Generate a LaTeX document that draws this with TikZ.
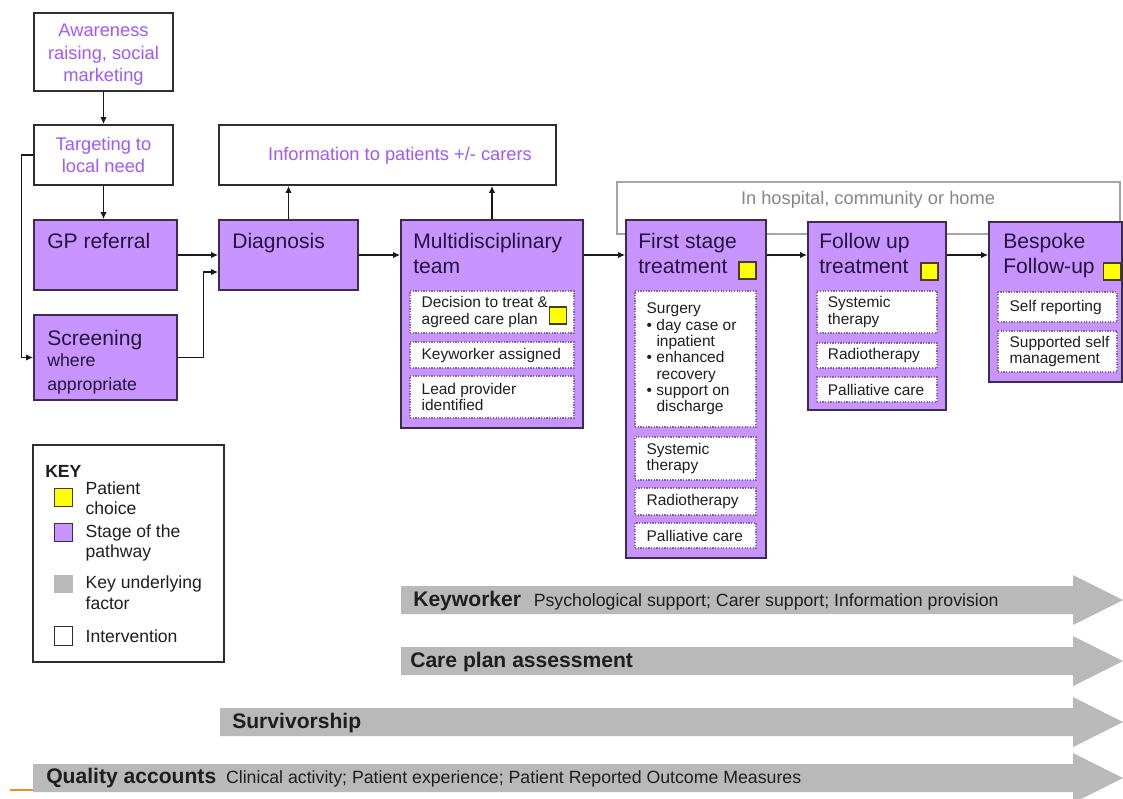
\documentclass[tikz,border=0pt]{standalone}
\usepackage{fontspec}
\setmainfont{Liberation Sans}
\usepackage{tikz}
\usetikzlibrary{arrows.meta, positioning, calc, fit}
\definecolor{stagefill}{RGB}{200,148,255}
\definecolor{stagedraw}{RGB}{60,45,80}
\definecolor{stagetext}{RGB}{35,20,60}
\definecolor{infotext}{RGB}{160,90,245}
\definecolor{boxdraw}{RGB}{45,45,45}
\definecolor{subdraw}{RGB}{130,100,160}
\definecolor{subtext}{RGB}{30,30,30}
\definecolor{choicefill}{RGB}{255,255,0}
\definecolor{choicedraw}{RGB}{70,60,40}
\definecolor{hospdraw}{RGB}{165,165,165}
\definecolor{hosptextcol}{RGB}{135,135,135}
\definecolor{barfill}{RGB}{185,185,185}
\definecolor{arrowcol}{RGB}{25,25,25}
\definecolor{slideorange}{RGB}{240,140,40}
\newcommand{\stagefont}{\fontsize{15}{17.8}\selectfont}
\newcommand{\notefont}{\fontsize{12.6}{17}\selectfont}
\newcommand{\infofont}{\fontsize{13}{15.9}\selectfont}
\newcommand{\subfont}{\fontsize{11}{11.6}\selectfont}
\newcommand{\keyfont}{\fontsize{12.5}{14.6}\selectfont}
\newcommand{\barbold}{\fontsize{15}{17}\selectfont\bfseries}
\newcommand{\bartext}{\fontsize{12.6}{15}\selectfont}
\newcommand{\bul}{\makebox[7pt][l]{\textbullet}}
\tikzset{
  infobox/.style={rectangle, draw=boxdraw, fill=white, line width=1.1pt, inner sep=0pt},
  infolbl/.style={inner sep=0pt, align=center, text=infotext, font=\infofont},
  hospbox/.style={rectangle, draw=hospdraw, fill=white, line width=1pt, inner sep=0pt},
  hosplbl/.style={inner sep=0pt, text=hosptextcol, font=\infofont},
  stagebox/.style={rectangle, draw=stagedraw, fill=stagefill, line width=1.1pt, inner sep=0pt},
  stagetitle/.style={anchor=north west, inner sep=0pt, align=left,
    text=stagetext, font=\stagefont},
  stagenote/.style={anchor=north west, inner sep=0pt, align=left,
    text=stagetext, font=\notefont},
  subbox/.style={rectangle, draw=subdraw, densely dotted, line width=0.9pt, fill=white,
    inner sep=0pt},
  sublbl/.style={anchor=west, inner sep=0pt, align=left, text=subtext, font=\subfont},
  choicesq/.style={rectangle, draw=choicedraw, fill=choicefill, line width=0.9pt,
    minimum width=0.42cm, minimum height=0.42cm, inner sep=0pt},
  keybox/.style={rectangle, draw=boxdraw, fill=white, line width=1.2pt, inner sep=0pt},
  keysq/.style={rectangle, minimum size=0.46cm, inner sep=0pt, line width=0.9pt},
  keytext/.style={anchor=north west, inner sep=0pt, align=left, text=subtext, font=\keyfont},
  factorbar/.style={fill=barfill},
  barlbl/.style={anchor=west, inner sep=0pt, text=subtext, font=\bartext},
  arrow/.style={-{Latex[length=5pt,width=4.5pt]}, line width=1pt, color=arrowcol}
}
\begin{document}
\begin{tikzpicture}[x=0.025cm, y=-0.025cm]
  \useasboundingbox (0,0) rectangle (1123,798);

  % Interventions
  \node[infobox, fit={(34,13) (173,91)}] (aware) {};
  \node[infolbl] (awaretxt) at ([yshift=-2pt]aware.center) {Awareness\\raising, social\\marketing};
  \node[infobox, fit={(34,125) (173,185)}] (target) {};
  \node[infolbl] (targettxt) at (target) {Targeting to\\local need};
  \node[infobox, fit={(219,125) (556,185)}] (info) {};
  \node[infolbl] (infotxt) at (400,156) {Information to patients +/- carers};

  % Setting of care (behind the stages)
  \node[hospbox, fit={(617,182) (1120,234)}] (hosp) {};
  \node[hosplbl] (hosptxt) at (868,200) {In hospital, community or home};

  % Stages of the pathway
  \node[stagebox, fit={(34,220) (177,290)}] (gp) {};
  \node[stagetitle] (gptitle) at (47,233) {GP referral};
  \node[stagebox, fit={(34,315) (177,400)}] (screen) {};
  \node[stagetitle] (screentitle) at (47,330) {Screening};
  \node[stagenote] (screennote) at ([yshift=-2pt]screentitle.south west) {where\\appropriate};
  \node[stagebox, fit={(219,220) (358,290)}] (diag) {};
  \node[stagetitle] (diagtitle) at (232,233) {Diagnosis};
  \node[stagebox, fit={(401,220) (583,428)}] (mdt) {};
  \node[stagetitle] (mdttitle) at (413,233) {Multidisciplinary\\team};
  \node[stagebox, fit={(626,220) (766,558)}] (first) {};
  \node[stagetitle] (firsttitle) at (638,233) {First stage\\treatment};
  \node[stagebox, fit={(808,222) (946,410)}] (follow) {};
  \node[stagetitle] (followtitle) at (819,233) {Follow up\\treatment};
  \node[stagebox, fit={(989,222) (1122,382)}] (bespoke) {};
  \node[stagetitle] (bespoketitle) at (1003,233) {Bespoke\\Follow-up};

  % Interventions inside the stages
  \node[subbox, fit={(410,291) (574,333)}] (decide) {};
  \node[sublbl] (decidetxt) at ([xshift=0.3cm]decide.west) {Decision to treat \&\\agreed care plan};
  \node[subbox, fit={(410,342) (574,368)}] (kwassign) {};
  \node[sublbl] (kwassigntxt) at ([xshift=0.3cm]kwassign.west) {Keyworker assigned};
  \node[subbox, fit={(410,376) (574,418)}] (leadprov) {};
  \node[sublbl] (leadprovtxt) at ([xshift=0.3cm]leadprov.west) {Lead provider\\identified};
  \node[subbox, fit={(635,291) (756,427)}] (surgery) {};
  \node[sublbl] (surgerytxt) at ([xshift=0.3cm]surgery.west) {Surgery\\
    \bul day case or\\\hspace*{7pt}inpatient\\
    \bul enhanced\\\hspace*{7pt}recovery\\
    \bul support on\\\hspace*{7pt}discharge};
  \node[subbox, fit={(635,437) (756,480)}] (sysfirst) {};
  \node[sublbl] (sysfirsttxt) at ([xshift=0.3cm]sysfirst.west) {Systemic\\therapy};
  \node[subbox, fit={(635,488) (756,515)}] (radfirst) {};
  \node[sublbl] (radfirsttxt) at ([xshift=0.3cm]radfirst.west) {Radiotherapy};
  \node[subbox, fit={(635,523) (756,548)}] (palfirst) {};
  \node[sublbl] (palfirsttxt) at ([xshift=0.3cm]palfirst.west) {Palliative care};
  \node[subbox, fit={(817,291) (937,333)}] (sysfollow) {};
  \node[sublbl] (sysfollowtxt) at ([xshift=0.28cm]sysfollow.west) {Systemic\\therapy};
  \node[subbox, fit={(817,343) (937,368)}] (radfollow) {};
  \node[sublbl] (radfollowtxt) at ([xshift=0.28cm]radfollow.west) {Radiotherapy};
  \node[subbox, fit={(817,377) (937,402)}] (palfollow) {};
  \node[sublbl] (palfollowtxt) at ([xshift=0.28cm]palfollow.west) {Palliative care};
  \node[subbox, fit={(998,292) (1117,322)}] (selfrep) {};
  \node[sublbl] (selfreptxt) at ([xshift=0.3cm]selfrep.west) {Self reporting};
  \node[subbox, fit={(998,331) (1117,372)}] (suppself) {};
  \node[sublbl] (suppselftxt) at ([xshift=0.3cm]suppself.west) {Supported self\\management};

  % Patient choice markers
  \node[choicesq] (choicedec) at (558,315.5) {};
  \node[choicesq] (choicefirst) at (747.5,270.5) {};
  \node[choicesq] (choicefollow) at (929.5,271.5) {};
  \node[choicesq] (choicebesp) at (1112,271.5) {};

  % Flow
  \draw[arrow] (aware) -- (target);
  \draw[arrow] (target.south) -- (target.south |- gp.north);
  \draw[arrow] (target.west) -- ++(-12,0) |- (screen.west);
  \draw[arrow] (gp) -- (diag);
  \draw[arrow] (screen.east) -- ++(26,0) |- ($(diag.west)+(0,17)$);
  \draw[arrow] (diag.north) -- (diag.north |- info.south);
  \draw[arrow] (mdt.north) -- (mdt.north |- info.south);
  \draw[arrow] (diag.east) -- (diag.east -| mdt.west);
  \draw[arrow] (mdt.east |- diag.east) -- (first.west |- diag.east);
  \draw[arrow] (first.east |- diag.east) -- (follow.west |- diag.east);
  \draw[arrow] (follow.east |- diag.east) -- (bespoke.west |- diag.east);

  % Key
  \node[keybox, fit={(33,445) (224,662)}] (key) {};
  \node[keytext, font=\keyfont\bfseries] (keyhead) at (45,465) {KEY};
  \node[keysq, draw=choicedraw, fill=choicefill] (sqchoice) at (63.5,497.5) {};
  \node[keytext] (txtchoice) at ([xshift=0.3cm, yshift=4.5pt]sqchoice.north east) {Patient\\choice};
  \node[keysq, draw=stagedraw, fill=stagefill] (sqstage) at (63.5,532.5) {};
  \node[keytext] (txtstage) at ([xshift=0.3cm, yshift=-1pt]sqstage.north east) {Stage of the\\pathway};
  \node[keysq, fill=barfill] (sqfactor) at (63.5,584) {};
  \node[keytext] (txtfactor) at ([xshift=0.3cm, yshift=-1pt]sqfactor.north east) {Key underlying\\factor};
  \node[keysq, draw=boxdraw, fill=white] (sqinterv) at (63.5,636) {};
  \node[keytext, anchor=west] (txtinterv) at ([xshift=0.3cm]sqinterv.east) {Intervention};

  % Key underlying factors
  \fill[factorbar] (401,586) -- (1073,586) -- (1073,575) -- (1123,600) -- (1073,625) -- (1073,614) -- (401,614) -- cycle;
  \fill[factorbar] (401,647) -- (1073,647) -- (1073,636) -- (1123,661) -- (1073,686) -- (1073,675) -- (401,675) -- cycle;
  \fill[factorbar] (220,708) -- (1073,708) -- (1073,697) -- (1123,722) -- (1073,747) -- (1073,736) -- (220,736) -- cycle;
  \fill[factorbar] (33,764) -- (1073,764) -- (1073,753) -- (1123,778) -- (1073,803) -- (1073,792) -- (33,792) -- cycle;
  \node[barlbl] (kwlbl) at (413,601) {{\barbold Keyworker}\hspace{9pt}Psychological support; Carer support; Information provision};
  \node[barlbl] (carelbl) at (410,662) {\barbold Care plan assessment};
  \node[barlbl] (survlbl) at (232,723) {\barbold Survivorship};
  \node[barlbl] (qualbl) at (46,778) {{\barbold Quality accounts}\hspace{7pt}Clinical activity; Patient experience; Patient Reported Outcome Measures};
  \draw[slideorange, line width=1.5pt] (10,790) -- (33,790);
\end{tikzpicture}
\end{document}
